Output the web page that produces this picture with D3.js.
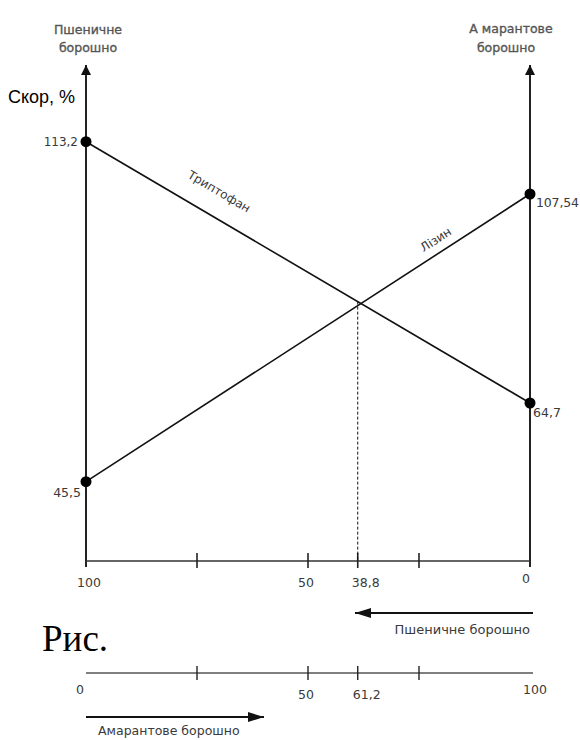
<!DOCTYPE html>
<html>
<head>
<meta charset="utf-8">
<script src="https://cdn.jsdelivr.net/npm/d3@7"></script>
<style>
  html, body { margin: 0; padding: 0; background: #fff; }
  svg { display: block; }
  .sm { font-family: "DejaVu Sans", Verdana, sans-serif; fill: #3a3a3a; }
  .hd { font-family: "DejaVu Sans", Verdana, sans-serif; fill: #555; stroke: #555; stroke-width: 0.35px; }
</style>
</head>
<body>
<svg id="chart" width="580" height="740"></svg>
<script>
// ---- data ----
const seriesNames = ["Триптофан", "Лізин"];
const wheatValues = [113.2, 45.5];      // at 100 % wheat flour (left axis)
const amaranthValues = [64.7, 107.54];  // at 0 % wheat flour (right axis)
const valueLabels = { left: ["113,2", "45,5"], right: ["64,7", "107,54"] };
const wheatTicks = [100, 75, 50, 38.8, 25, 0];
const wheatTickLabels = ["100", "", "50", "38,8", "", "0"];
const amaranthTicks = [0, 25, 50, 61.2, 75, 100];
const amaranthTickLabels = ["0", "", "50", "61,2", "", "100"];
const crossValue = 38.8;

// ---- scales ----
const svg = d3.select("#chart");
const x = d3.scaleLinear().domain([100, 0]).range([86, 530]);
const x2 = d3.scaleLinear().domain([0, 100]).range([86, 530]);
const yLeft = d3.scaleLinear().domain([45.5, 113.2]).range([481.7, 141.7]);
const yRight = d3.scaleLinear().domain([64.7, 107.54]).range([403, 194]);
const axisY = 561, topY = 65, axis2Y = 673;

// arrow markers
const defs = svg.append("defs");
defs.append("marker").attr("id", "ah").attr("viewBox", "0 0 10 10")
  .attr("refX", 10).attr("refY", 5).attr("markerWidth", 10).attr("markerHeight", 10)
  .attr("markerUnits", "userSpaceOnUse").attr("orient", "auto")
  .append("path").attr("d", "M0,0 L10,5 L0,10 Z").attr("fill", "#111");
defs.append("marker").attr("id", "ah2").attr("viewBox", "0 0 16 10")
  .attr("refX", 16).attr("refY", 5).attr("markerWidth", 16).attr("markerHeight", 10)
  .attr("markerUnits", "userSpaceOnUse").attr("orient", "auto")
  .append("path").attr("d", "M0,0 L16,5 L0,10 Z").attr("fill", "#111");

// vertical axes
[x(100), x(0)].forEach(px => {
  svg.append("line").attr("x1", px).attr("x2", px).attr("y1", axisY + 6).attr("y2", topY)
    .attr("stroke", "#222").attr("stroke-width", 2).attr("marker-end", "url(#ah)");
});

// bottom axis (wheat)
svg.append("line").attr("x1", x(100)).attr("x2", x(0)).attr("y1", axisY).attr("y2", axisY)
  .attr("stroke", "#333").attr("stroke-width", 1.6);
wheatTicks.forEach((t, i) => {
  if (t !== 100 && t !== 0) {
    svg.append("line").attr("x1", x(t)).attr("x2", x(t)).attr("y1", axisY - 8).attr("y2", axisY + 7)
      .attr("stroke", "#222").attr("stroke-width", 1.6);
  }
  if (wheatTickLabels[i]) {
    svg.append("text").attr("class", "sm").attr("x", x(t) + (t === 100 ? 3 : t === 0 ? -4 : t === 38.8 ? 8 : -2))
      .attr("y", t === 0 ? 583 : 587).attr("text-anchor", "middle").attr("font-size", 12.5)
      .text(wheatTickLabels[i]);
  }
});

// second axis (amaranth)
svg.append("line").attr("x1", x2(0)).attr("x2", x2(100) + 3).attr("y1", axis2Y).attr("y2", axis2Y)
  .attr("stroke", "#555").attr("stroke-width", 1.6);
amaranthTicks.forEach((t, i) => {
  if (t !== 0 && t !== 100) {
    svg.append("line").attr("x1", x2(t)).attr("x2", x2(t)).attr("y1", axis2Y - 7).attr("y2", axis2Y + 7)
      .attr("stroke", "#222").attr("stroke-width", 1.4);
  }
  if (amaranthTickLabels[i]) {
    svg.append("text").attr("class", "sm").attr("x", x2(t) + (t === 0 ? -6 : t === 100 ? 5 : t === 61.2 ? 9 : -2))
      .attr("y", t === 0 || t === 100 ? 694 : 699).attr("text-anchor", "middle").attr("font-size", 12.5)
      .text(amaranthTickLabels[i]);
  }
});

// series lines
const xL = x(100), xR = x(0);
const lines = seriesNames.map((n, i) => ({ name: n, y1: yLeft(wheatValues[i]), y2: yRight(amaranthValues[i]) }));
lines.forEach(l => {
  svg.append("line").attr("x1", xL).attr("y1", l.y1).attr("x2", xR).attr("y2", l.y2)
    .attr("stroke", "#111").attr("stroke-width", 1.6);
});

// dashed line at crossing
const xc = x(crossValue);
const yc = lines[0].y1 + (lines[0].y2 - lines[0].y1) * (xc - xL) / (xR - xL);
svg.append("line").attr("x1", xc).attr("x2", xc).attr("y1", yc).attr("y2", axisY)
  .attr("stroke", "#111").attr("stroke-width", 1).attr("stroke-dasharray", "3,2");

// points
lines.forEach(l => {
  svg.append("circle").attr("cx", xL).attr("cy", l.y1).attr("r", 5.5).attr("fill", "#000");
  svg.append("circle").attr("cx", xR).attr("cy", l.y2).attr("r", 5.5).attr("fill", "#000");
});

// value labels
svg.append("text").attr("class", "sm").attr("x", 78).attr("y", yLeft(wheatValues[0]) + 4)
  .attr("text-anchor", "end").attr("font-size", 12).text(valueLabels.left[0]);
svg.append("text").attr("class", "sm").attr("x", 81).attr("y", yLeft(wheatValues[1]) + 15)
  .attr("text-anchor", "end").attr("font-size", 12.5).text(valueLabels.left[1]);
svg.append("text").attr("class", "sm").attr("x", 536).attr("y", yRight(amaranthValues[1]) + 13)
  .attr("font-size", 12.5).attr("textLength", 43).text(valueLabels.right[1]);
svg.append("text").attr("class", "sm").attr("x", 533).attr("y", yRight(amaranthValues[0]) + 14)
  .attr("font-size", 12.5).text(valueLabels.right[0]);

// series name labels along lines
const ang0 = Math.atan2(lines[0].y2 - lines[0].y1, xR - xL) * 180 / Math.PI;
const ang1 = Math.atan2(lines[1].y2 - lines[1].y1, xR - xL) * 180 / Math.PI;
svg.append("text").attr("class", "sm").attr("font-size", 12).attr("text-anchor", "middle")
  .attr("transform", `translate(217,195) rotate(${ang0})`).text(seriesNames[0]);
svg.append("text").attr("class", "sm").attr("font-size", 12).attr("text-anchor", "middle")
  .attr("transform", `translate(438,243) rotate(${ang1})`).text(seriesNames[1]);

// axis titles
svg.append("text").attr("x", 8).attr("y", 103).attr("font-family", "Liberation Sans, Arial, sans-serif")
  .attr("font-size", 18).attr("fill", "#000").text("Скор, %");
svg.append("text").attr("class", "hd").attr("x", 88).attr("y", 34).attr("text-anchor", "middle")
  .attr("font-size", 12.5).text("Пшеничне");
svg.append("text").attr("class", "hd").attr("x", 88).attr("y", 52).attr("text-anchor", "middle")
  .attr("font-size", 12.5).text("борошно");
svg.append("text").attr("class", "hd").attr("x", 511).attr("y", 33).attr("text-anchor", "middle")
  .attr("font-size", 12.5).text("А марантове");
svg.append("text").attr("class", "hd").attr("x", 506).attr("y", 52).attr("text-anchor", "middle")
  .attr("font-size", 12.5).text("борошно");

// direction arrows
svg.append("line").attr("x1", 533).attr("x2", 355).attr("y1", 613).attr("y2", 613)
  .attr("stroke", "#111").attr("stroke-width", 2).attr("marker-end", "url(#ah2)");
svg.append("text").attr("class", "sm").attr("x", 530).attr("y", 634).attr("text-anchor", "end")
  .attr("font-size", 13).text("Пшеничне борошно");
svg.append("line").attr("x1", 86).attr("x2", 264).attr("y1", 717).attr("y2", 717)
  .attr("stroke", "#111").attr("stroke-width", 2).attr("marker-end", "url(#ah2)");
svg.append("text").attr("class", "sm").attr("x", 98).attr("y", 735)
  .attr("font-size", 12.5).text("Амарантове борошно");

// caption
svg.append("text").attr("x", 42).attr("y", 651).attr("font-family", "Liberation Serif, Times New Roman, serif")
  .attr("font-size", 37).attr("fill", "#000").text("Рис.");
</script>
</body>
</html>
